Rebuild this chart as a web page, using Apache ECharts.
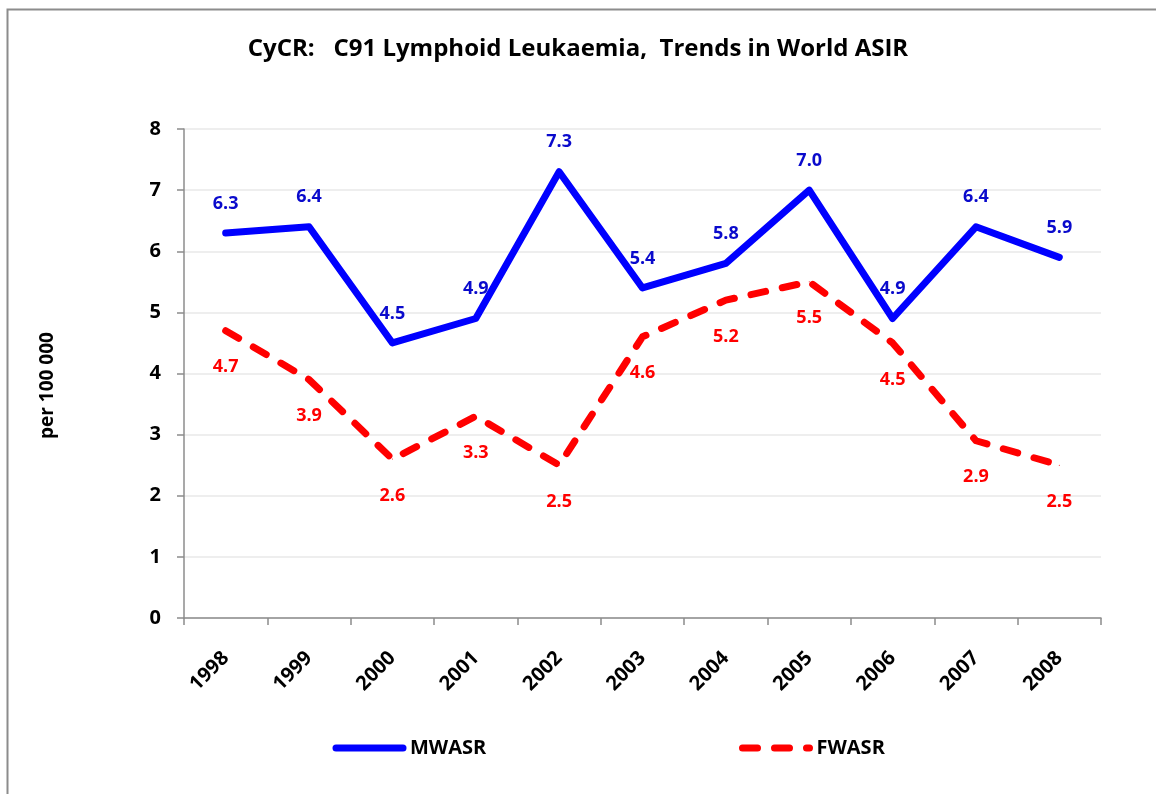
<!DOCTYPE html>
<html>
<head>
<meta charset="utf-8">
<title>CyCR: C91 Lymphoid Leukaemia, Trends in World ASIR</title>
<script src="https://cdn.jsdelivr.net/npm/echarts@6/dist/echarts.min.js"></script>
<style>
  html, body { margin: 0; padding: 0; background: #ffffff; }
  #chart { width: 1156px; height: 794px; }
</style>
</head>
<body>
<div id="chart"></div>
<script>
// Years on the category axis
const years = ['1998', '1999', '2000', '2001', '2002', '2003', '2004', '2005', '2006', '2007', '2008'];
// Male world age-standardised rate (per 100 000)
const mwasr = [6.3, 6.4, 4.5, 4.9, 7.3, 5.4, 5.8, 7.0, 4.9, 6.4, 5.9];
// Female world age-standardised rate (per 100 000)
const fwasr = [4.7, 3.9, 2.6, 3.3, 2.5, 4.6, 5.2, 5.5, 4.5, 2.9, 2.5];
// Value axis ticks
const yTicks = [0, 1, 2, 3, 4, 5, 6, 7, 8];
// Series names shown in the key
const seriesNames = ['MWASR', 'FWASR'];

const titleFont = '"Open Sans", "Liberation Sans", sans-serif';
const BLUE = '#0000ff';
const RED = '#ff0000';
const DASH = [15, 17];

const chart = echarts.init(document.getElementById('chart'), null, { renderer: 'canvas' });

// Key drawn below the plot: a line sample followed by its series name
function keyItem(x, y, len, color, dash, name) {
  return [{
    type: 'line',
    shape: { x1: x, y1: y, x2: x + len, y2: y },
    style: { stroke: color, lineWidth: 7, lineCap: 'round', lineDash: dash },
    silent: true
  }, {
    type: 'text',
    x: x + len + 7,
    y: y,
    style: {
      text: name,
      fill: '#000000',
      font: 'bold 20px ' + titleFont,
      verticalAlign: 'middle'
    },
    silent: true
  }];
}

chart.setOption({
  backgroundColor: '#ffffff',
  animation: false,
  title: {
    text: 'CyCR:   C91 Lymphoid Leukaemia,  Trends in World ASIR',
    left: 'center',
    top: 32,
    textStyle: { fontFamily: titleFont, fontWeight: 'bold', fontSize: 24, color: '#000000' }
  },
  graphic: [{
    type: 'rect',
    shape: { x: 7.5, y: 9.5, width: 1300, height: 1000 },
    style: { fill: 'none', stroke: '#8c8c8c', lineWidth: 2 },
    silent: true,
    z: -10
  }]
    .concat(keyItem(336, 748, 67, BLUE, null, seriesNames[0]))
    .concat(keyItem(742.5, 748, 67, RED, DASH, seriesNames[1])),
  grid: { left: 184, right: 55, top: 129, bottom: 176, containLabel: false },
  xAxis: {
    type: 'category',
    data: years,
    boundaryGap: true,
    axisLine: { lineStyle: { color: '#8c8c8c', width: 1.5 } },
    axisTick: { show: true, length: 7, lineStyle: { color: '#8c8c8c', width: 1.5 } },
    axisLabel: {
      rotate: 45,
      margin: 37,
      fontFamily: titleFont,
      fontWeight: 'bold',
      fontSize: 20,
      color: '#000000'
    },
    splitLine: { show: false }
  },
  yAxis: {
    type: 'value',
    min: yTicks[0],
    max: yTicks[yTicks.length - 1],
    interval: 1,
    name: 'per 100 000',
    nameLocation: 'middle',
    nameGap: 127,
    nameRotate: 90,
    nameTextStyle: {
      fontFamily: titleFont, fontWeight: 'bold', fontSize: 19, color: '#000000',
      padding: [0, 24, 0, 0]
    },
    axisLine: { show: true, lineStyle: { color: '#8c8c8c', width: 1.5 } },
    axisTick: { show: true, length: 7, lineStyle: { color: '#8c8c8c', width: 1.5 } },
    axisLabel: {
      margin: 23,
      fontFamily: titleFont,
      fontWeight: 'bold',
      fontSize: 20,
      color: '#000000',
      formatter: v => String(v)
    },
    splitLine: { show: true, lineStyle: { color: '#e8e8e8', width: 1.5 } }
  },
  series: [{
    name: seriesNames[0],
    type: 'line',
    data: mwasr,
    symbol: 'circle',
    symbolSize: 1,
    showSymbol: true,
    color: BLUE,
    itemStyle: { color: BLUE },
    lineStyle: { color: BLUE, width: 7, cap: 'round', join: 'round' },
    label: {
      show: true,
      position: 'top',
      distance: 20,
      formatter: p => p.value.toFixed(1),
      fontFamily: titleFont,
      fontWeight: 'bold',
      fontSize: 18,
      color: '#0a0acc'
    },
    z: 3
  }, {
    name: seriesNames[1],
    type: 'line',
    data: fwasr,
    symbol: 'circle',
    symbolSize: 1,
    showSymbol: true,
    color: RED,
    itemStyle: { color: RED },
    lineStyle: { color: RED, width: 7, type: DASH, cap: 'round', join: 'round' },
    label: {
      show: true,
      position: 'bottom',
      distance: 27,
      formatter: p => p.value.toFixed(1),
      fontFamily: titleFont,
      fontWeight: 'bold',
      fontSize: 18,
      color: RED
    },
    z: 2
  }]
});
</script>
</body>
</html>
